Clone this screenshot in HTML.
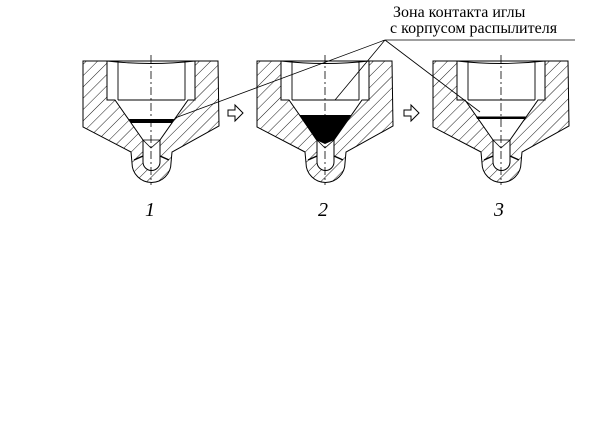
<!DOCTYPE html>
<html><head><meta charset="utf-8"><style>
html,body{margin:0;padding:0;background:#fff;width:608px;height:423px;overflow:hidden}
svg{display:block}
</style></head><body>
<svg width="608" height="423" viewBox="0 0 608 423" xmlns="http://www.w3.org/2000/svg">
<defs>
<pattern id="h" patternUnits="userSpaceOnUse" width="8" height="8" patternTransform="rotate(45)">
<rect width="8" height="8" fill="#fff"/><line x1="0" y1="0" x2="0" y2="8" stroke="#000" stroke-width="0.9"/>
</pattern>
<g id="nz">
<path d="M83,61 L218,61 L219,126 L172,152 L171,163 A19,19 0 0 1 132,163 L131,152 L83,127 Z" fill="url(#h)" stroke="#000" stroke-width="1"/>
<path d="M107,61 L195,61 L195,100 L188,100 L160,140 L160,162 A8.5,8.5 0 0 1 143,162 L143,140 L115,100 L107,100 Z" fill="#fff" stroke="#000" stroke-width="1"/>
<path d="M118,61 L118,100 M185,61 L185,100 M118,100 L185,100 M107,61 Q151,66 195,61" fill="none" stroke="#000" stroke-width="0.9"/>
<path d="M143,140 L151,148 L160,140 M143,140 L160,140" fill="none" stroke="#000" stroke-width="0.8"/>
<path d="M134,160 L143,156 M169,160 L160,156" stroke="#000" stroke-width="1.5"/>
<line x1="151" y1="55" x2="151" y2="185" stroke="#000" stroke-width="0.8" stroke-dasharray="8,3,2,3"/>
</g>
<g id="arr"><path d="M0,-3 L7,-3 L7,-8 L15,0 L7,8 L7,3 L0,3 Z" fill="#fff" stroke="#000" stroke-width="1"/></g>
</defs>
<use href="#nz"/>
<use href="#nz" transform="translate(174,0)"/>
<use href="#nz" transform="translate(350,0)"/>
<path d="M129,119 L174,119 L172,123 L131,123 Z" fill="#000"/>
<path d="M299,115 L351,115 L334,140 L325,144 L316,140 Z" fill="#000"/>
<path d="M476,116.5 L526,116.5 L525,119 L477,119 Z" fill="#000"/>
<use href="#arr" transform="translate(228,113)"/>
<use href="#arr" transform="translate(404,113)"/>
<path d="M385,40 L575,40 M385,40 L175,118 M385,40 L335,100 M385,40 L480,112" fill="none" stroke="#000" stroke-width="0.8"/>
<text x="393" y="17" font-family="Liberation Serif, serif" font-size="16">Зона контакта иглы</text>
<text x="390" y="33" font-family="Liberation Serif, serif" font-size="16">с корпусом распылителя</text>
<text x="145" y="216" font-family="Liberation Serif, serif" font-size="20" font-style="italic">1</text>
<text x="318" y="216" font-family="Liberation Serif, serif" font-size="20" font-style="italic">2</text>
<text x="494" y="216" font-family="Liberation Serif, serif" font-size="20" font-style="italic">3</text>
</svg>
</body></html>
